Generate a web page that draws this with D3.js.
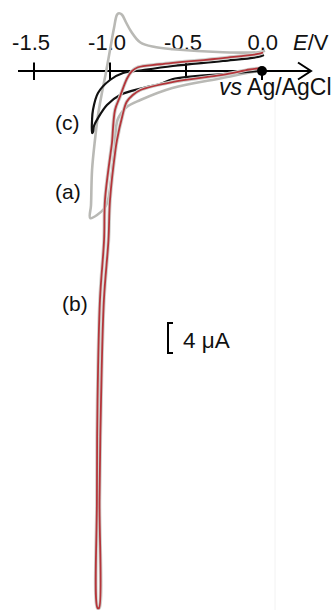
<!DOCTYPE html>
<html>
<head>
<meta charset="utf-8">
<script src="https://cdn.jsdelivr.net/npm/d3@7"></script>
<style>
  body { margin: 0; background: #fff; }
  text { font-family: "Liberation Sans", Arial, sans-serif; fill: #111; }
</style>
</head>
<body>
<div id="vis"></div>
<script>
// Cyclic voltammograms, E (V vs Ag/AgCl) against current (uA)

/* ********** Data ********** */

// tick labels on the potential axis
var ticks = [-1.5, -1.0, -0.5, 0.0];

// (a) grey curve: [E, I] pairs, forward sweep then return
var curveA = [
    [0.0, 0.0], [-0.06, -0.13], [-0.26, -0.93], [-0.59, -2.27], [-0.80, -3.87],
    [-0.89, -4.8], [-0.95, -6.5], [-0.97, -10.5], [-0.993, -14.5], [-1.013, -17.2],
    [-1.04, -18.4], [-1.13, -19.6],
    [-1.125, -17.9], [-1.118, -13.2], [-1.099, -9.2], [-1.079, -5.9], [-1.053, -2.9],
    [-1.026, -0.13], [-1.0, 2.8], [-0.974, 5.7], [-0.954, 7.5], [-0.941, 7.7],
    [-0.921, 7.5], [-0.895, 6.5], [-0.862, 5.3], [-0.80, 3.8], [-0.704, 3.2],
    [-0.586, 2.9], [-0.257, 2.5], [-0.026, 2.5], [0.02, 2.7]
];

// (b) red curve
var curveB = [
    [0.0, 0.4], [-0.08, 0.2], [-0.26, -0.53], [-0.59, -1.47], [-0.80, -2.53],
    [-0.85, -3.2], [-0.89, -4.1], [-0.92, -6.1], [-0.954, -9.2], [-0.964, -10.5],
    [-1.0, -17.2], [-1.01, -22.5], [-1.04, -30.5], [-1.059, -43.9], [-1.069, -57.2],
    [-1.072, -71.6],
    [-1.082, -71.6], [-1.086, -57.2], [-1.082, -43.9], [-1.066, -30.5], [-1.039, -22.5],
    [-1.033, -17.2], [-0.993, -10.5], [-0.987, -9.6], [-0.967, -5.2], [-0.934, -3.4],
    [-0.888, -1.0], [-0.855, 0.0], [-0.816, 0.5], [-0.671, 0.9], [-0.257, 1.73],
    [-0.026, 2.27], [0.007, 2.47]
];

// (c) black curve
var curveC = [
    [-0.03, 0.0], [-0.257, -0.4], [-0.586, -1.07], [-0.671, -1.73], [-0.783, -2.27],
    [-0.934, -3.2], [-1.02, -4.53], [-1.079, -6.27], [-1.105, -7.3], [-1.112, -8.13],
    [-1.118, -8.27], [-1.118, -6.5], [-1.112, -5.2], [-1.079, -2.93], [-1.0, -1.2],
    [-0.914, -0.27], [-0.803, 0.07], [-0.586, 0.67], [-0.257, 1.33], [-0.026, 1.87],
    [0.013, 2.13]
];

// curve labels and their anchor points [E, I]
var labels = ['(c)', '(a)', '(b)'];
var labelPos = [[-1.362, -7.8], [-1.362, -17.0], [-1.316, -32.0]];

// scale bar size (uA)
var barSize = 4;

/* ********** Layout ********** */
var width = 335;
var height = 610;

var svg = d3.select('#vis')
    .append('svg')
    .attr('width', width)
    .attr('height', height);

// 0.5 V = 76 px, 1 uA = 7.5 px
var xScale = d3.scaleLinear().domain([-1.5, 0]).range([34, 262]);
var yScale = d3.scaleLinear().domain([0, -10]).range([71, 146]);

var line = d3.line()
    .x(function(d) { return xScale(d[0]); })
    .y(function(d) { return yScale(d[1]); })
    .curve(d3.curveCatmullRom.alpha(0.5));

// faint frame line seen on the right
svg.append('line')
    .attr('x1', 275).attr('x2', 275)
    .attr('y1', 98).attr('y2', height)
    .attr('stroke', '#f2f2f2')
    .attr('stroke-width', 1);

/* ********** Axis ********** */
var axisY = yScale(0);
svg.append('line')
    .attr('x1', 18).attr('x2', 311)
    .attr('y1', axisY).attr('y2', axisY)
    .attr('stroke', '#000')
    .attr('stroke-width', 2);

// arrow head
svg.append('path')
    .attr('d', 'M298,' + (axisY - 8.5) + 'L311,' + axisY + 'L298,' + (axisY + 8.5))
    .attr('fill', 'none')
    .attr('stroke', '#000')
    .attr('stroke-width', 2);

svg.selectAll('.tick')
    .data(ticks)
    .enter().append('line')
    .attr('class', 'tick')
    .attr('x1', function(d) { return xScale(d); })
    .attr('x2', function(d) { return xScale(d); })
    .attr('y1', function(d) { return d === 0 ? axisY : axisY - 8.5; })
    .attr('y2', axisY + 9)
    .attr('stroke', '#000')
    .attr('stroke-width', 2);

svg.selectAll('.tickLabel')
    .data(ticks)
    .enter().append('text')
    .attr('class', 'tickLabel')
    .attr('x', function(d) { return xScale(d) + 16; })
    .attr('y', 50)
    .attr('text-anchor', 'end')
    .style('font-size', '22px')
    .text(function(d) { return d3.format('.1f')(d).replace('−', '-'); });

var eLabel = svg.append('text')
    .attr('x', 293)
    .attr('y', 50)
    .style('font-size', '22px');
eLabel.append('tspan').style('font-style', 'italic').text('E');
eLabel.append('tspan').text('/V');

var refLabel = svg.append('text')
    .attr('x', 219)
    .attr('y', 95)
    .style('font-size', '23px');
refLabel.append('tspan').style('font-style', 'italic').text('vs');
refLabel.append('tspan').text(' Ag/AgCl');

/* ********** Curves ********** */
svg.append('path')
    .datum(curveA)
    .attr('d', line)
    .attr('fill', 'none')
    .attr('stroke', '#b9b9b5')
    .attr('stroke-width', 2.6)
    .attr('stroke-linejoin', 'round');

svg.append('path')
    .datum(curveC)
    .attr('d', line)
    .attr('fill', 'none')
    .attr('stroke', '#111')
    .attr('stroke-width', 2.2)
    .attr('stroke-linejoin', 'round');

// red curve has a soft grey halo underneath
svg.append('path')
    .datum(curveB)
    .attr('d', line)
    .attr('fill', 'none')
    .attr('stroke', '#cfcfcc')
    .attr('stroke-width', 3.6)
    .attr('stroke-linejoin', 'round');

svg.append('path')
    .datum(curveB)
    .attr('d', line)
    .attr('fill', 'none')
    .attr('stroke', '#b5353a')
    .attr('stroke-width', 1.8)
    .attr('stroke-linejoin', 'round');

// origin dot
svg.append('circle')
    .attr('cx', xScale(0))
    .attr('cy', axisY)
    .attr('r', 5)
    .attr('fill', '#000');

/* ********** Labels ********** */
svg.selectAll('.curveLabel')
    .data(labels)
    .enter().append('text')
    .attr('class', 'curveLabel')
    .attr('x', function(d, i) { return xScale(labelPos[i][0]); })
    .attr('y', function(d, i) { return yScale(labelPos[i][1]); })
    .style('font-size', '21px')
    .text(function(d) { return d; });

// scale bar
var barTop = 323;
var barH = yScale(-barSize) - yScale(0);
svg.append('path')
    .attr('d', 'M173,' + barTop + 'H168V' + (barTop + barH) + 'H173')
    .attr('fill', 'none')
    .attr('stroke', '#000')
    .attr('stroke-width', 2);

svg.append('text')
    .attr('x', 183)
    .attr('y', 348)
    .style('font-size', '22.5px')
    .text(barSize + ' μA');
</script>
</body>
</html>
